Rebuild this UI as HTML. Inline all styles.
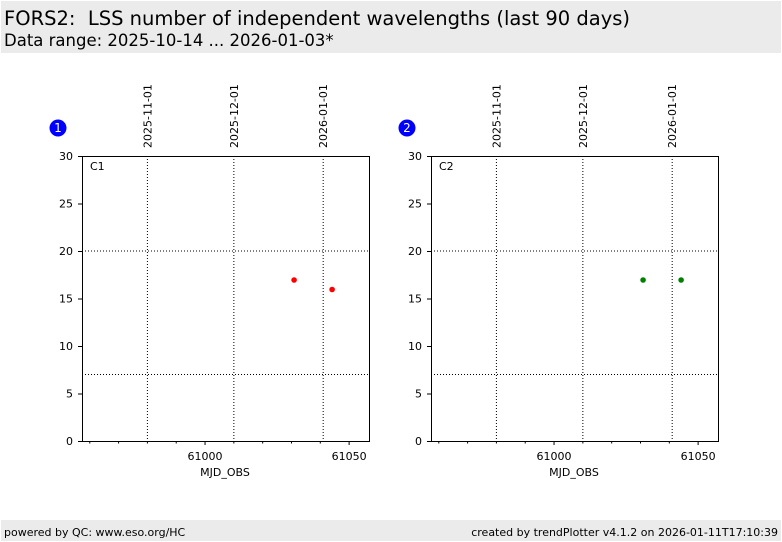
<!DOCTYPE html>
<html><head><meta charset="utf-8"><style>
body{margin:0;width:782px;height:542px;background:#fff;font-family:"DejaVu Sans","Liberation Sans",sans-serif;overflow:hidden;position:relative}
.hdr{position:absolute;left:1px;top:1px;width:780px;height:52px;background:#ebebeb}
.ftr{position:absolute;left:1px;top:520px;width:780px;height:21px;background:#ebebeb;font-size:11px}
svg text{font-family:"DejaVu Sans","Liberation Sans",sans-serif}
</style></head><body>
<div class="hdr">
<div style="position:absolute;left:3px;top:6px;font-size:19.5px">FORS2:&nbsp; LSS number of independent wavelengths (last 90 days)</div>
<div style="position:absolute;left:3px;top:30px;font-size:16.5px">Data range: 2025-10-14 ... 2026-01-03*</div>
</div>
<svg id="chart" width="782" height="542" style="position:absolute;left:0;top:0"></svg>
<div class="ftr">
<span style="position:absolute;left:3px;top:6px">powered by QC: www.eso.org/HC</span>
<span style="position:absolute;right:3px;top:6px">created by trendPlotter v4.1.2 on 2026-01-11T17:10:39</span>
</div>
<script>
const panelLabels=["C1","C2"];
const xValues1=[61030.9,61044.1];
const yValues1=[17,16];
const xValues2=[61030.9,61044.1];
const yValues2=[17,17];
const yTicks=[0,5,10,15,20,25,30];
const xTicks=[61000,61050];
const dateLabels=["2025-11-01","2025-12-01","2026-01-01"];
const dateMjd=[60980,61010,61041];
const refLines=[20,7];
const ns="http://www.w3.org/2000/svg";
const svg=document.getElementById('chart');
function mk(t,a,p){const e=document.createElementNS(ns,t);for(const k in a)e.setAttribute(k,a[k]);(p||svg).appendChild(e);return e;}
const xMin=60957.3,xMax=61056.9,yMin=0,yMax=30;
function drawPanel(idx,left,xs,ys,color){
 const top=156,w=287,h=285;
 const X=v=>left+(v-xMin)/(xMax-xMin)*w, Y=v=>top+h-(v-yMin)/(yMax-yMin)*h;
 const g=mk('g',{});
 
 
 const c=mk('circle',{cx:left-24,cy:128,r:8.5,fill:'#0000ff'},g);
 
 
 const bt=mk('text',{x:left-24,y:132,'font-size':12,fill:'#fff','text-anchor':'middle'},g);bt.textContent=String(idx+1);
 
 
 refLines.forEach(v=>{const l=mk('line',{x1:left,x2:left+w,y1:Y(v),y2:Y(v),stroke:'#000','stroke-width':1,'stroke-dasharray':'1,2'},g);
  
  });
 dateMjd.forEach((m,i)=>{const x=X(m);const l=mk('line',{x1:x,x2:x,y1:top,y2:top+h,stroke:'#000','stroke-width':1,'stroke-dasharray':'1,2'},g);
  
  
  const t=mk('text',{x:0,y:0,'font-size':11,transform:`translate(${x+4},${top-8}) rotate(-90)`},g);t.textContent=dateLabels[i];
  
  });
 const fr=mk('rect',{x:left+.5,y:top+.5,width:w,height:h,fill:'none',stroke:'#000','stroke-width':1},g);
 
 
 yTicks.forEach(v=>{mk('line',{x1:left-4,x2:left,y1:Y(v)+.5,y2:Y(v)+.5,stroke:'#000'},g);
  const t=mk('text',{x:left-9,y:Y(v)+4,'font-size':11,'text-anchor':'end'},g);t.textContent=v;
  
  });
 for(let v=60960;v<=61050;v+=10){const maj=xTicks.includes(v);mk('line',{x1:X(v),x2:X(v),y1:top+h,y2:top+h+(maj?4:2.5),stroke:'#000'},g);}
 xTicks.forEach(v=>{const t=mk('text',{x:X(v),y:top+h+19,'font-size':11,'text-anchor':'middle'},g);t.textContent=v;
  
  });
 const xt=mk('text',{x:left+w/2-0.5,y:top+h+35,'font-size':11,'text-anchor':'middle'},g);xt.textContent='MJD_OBS';
 
 
 const pl=mk('text',{x:left+8,y:top+14,'font-size':11},g);pl.textContent=panelLabels[idx];
 
 
 xs.forEach((v,i)=>{const p=mk('circle',{cx:X(v),cy:Y(ys[i])+.5,r:2.8,fill:color},g);
  
  });
}
drawPanel(0,82,xValues1,yValues1,'#ff0000');
drawPanel(1,431,xValues2,yValues2,'#008000');
</script>
</body></html>
